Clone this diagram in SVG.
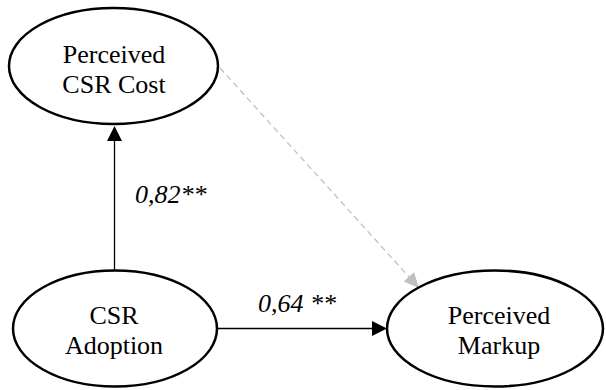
<svg xmlns="http://www.w3.org/2000/svg" width="606" height="390" viewBox="0 0 606 390">
<style>
.node{fill:#fff;stroke:#000;stroke-width:2.5}
.t{font-family:"Liberation Serif","Times New Roman",serif;font-size:26px;fill:#000;text-anchor:middle}
.lbl{font-family:"Liberation Serif","Times New Roman",serif;font-size:26px;font-style:italic;fill:#000}
.edge{stroke:#000;stroke-width:1.3;fill:none}
.dash{stroke:#c0c0c0;stroke-width:1.3;stroke-dasharray:6 4;fill:none}
</style>
<rect width="606" height="390" fill="#fff"/>
<g id="connectors">
<line class="edge" x1="114.5" y1="270" x2="114.5" y2="140"/>
<polygon points="114.5,126 107,141 122,141" fill="#000"/>
<line class="edge" x1="217" y1="328.5" x2="373" y2="328.5"/>
<polygon points="387,328.5 372,321 372,336" fill="#000"/>
<line class="dash" x1="220" y1="68" x2="410" y2="278"/>
<polygon points="419,288 403.7,281.6 414.1,272.2" fill="#c0c0c0"/>
<text class="lbl" x="135" y="203">0,82**</text>
<text class="lbl" x="258" y="312">0,64 **</text>
</g>
<g id="cost">
<ellipse class="node" cx="113.5" cy="66" rx="104.5" ry="58"/>
<text class="t" x="114" y="63">Perceived</text>
<text class="t" x="114" y="93">CSR Cost</text>
</g>
<g id="adoption">
<ellipse class="node" cx="115" cy="328.5" rx="102" ry="58"/>
<text class="t" x="114" y="324">CSR</text>
<text class="t" x="114" y="354">Adoption</text>
</g>
<g id="markup">
<ellipse class="node" cx="495" cy="328.5" rx="108" ry="58"/>
<text class="t" x="499" y="324">Perceived</text>
<text class="t" x="499" y="354">Markup</text>
</g>
</svg>
